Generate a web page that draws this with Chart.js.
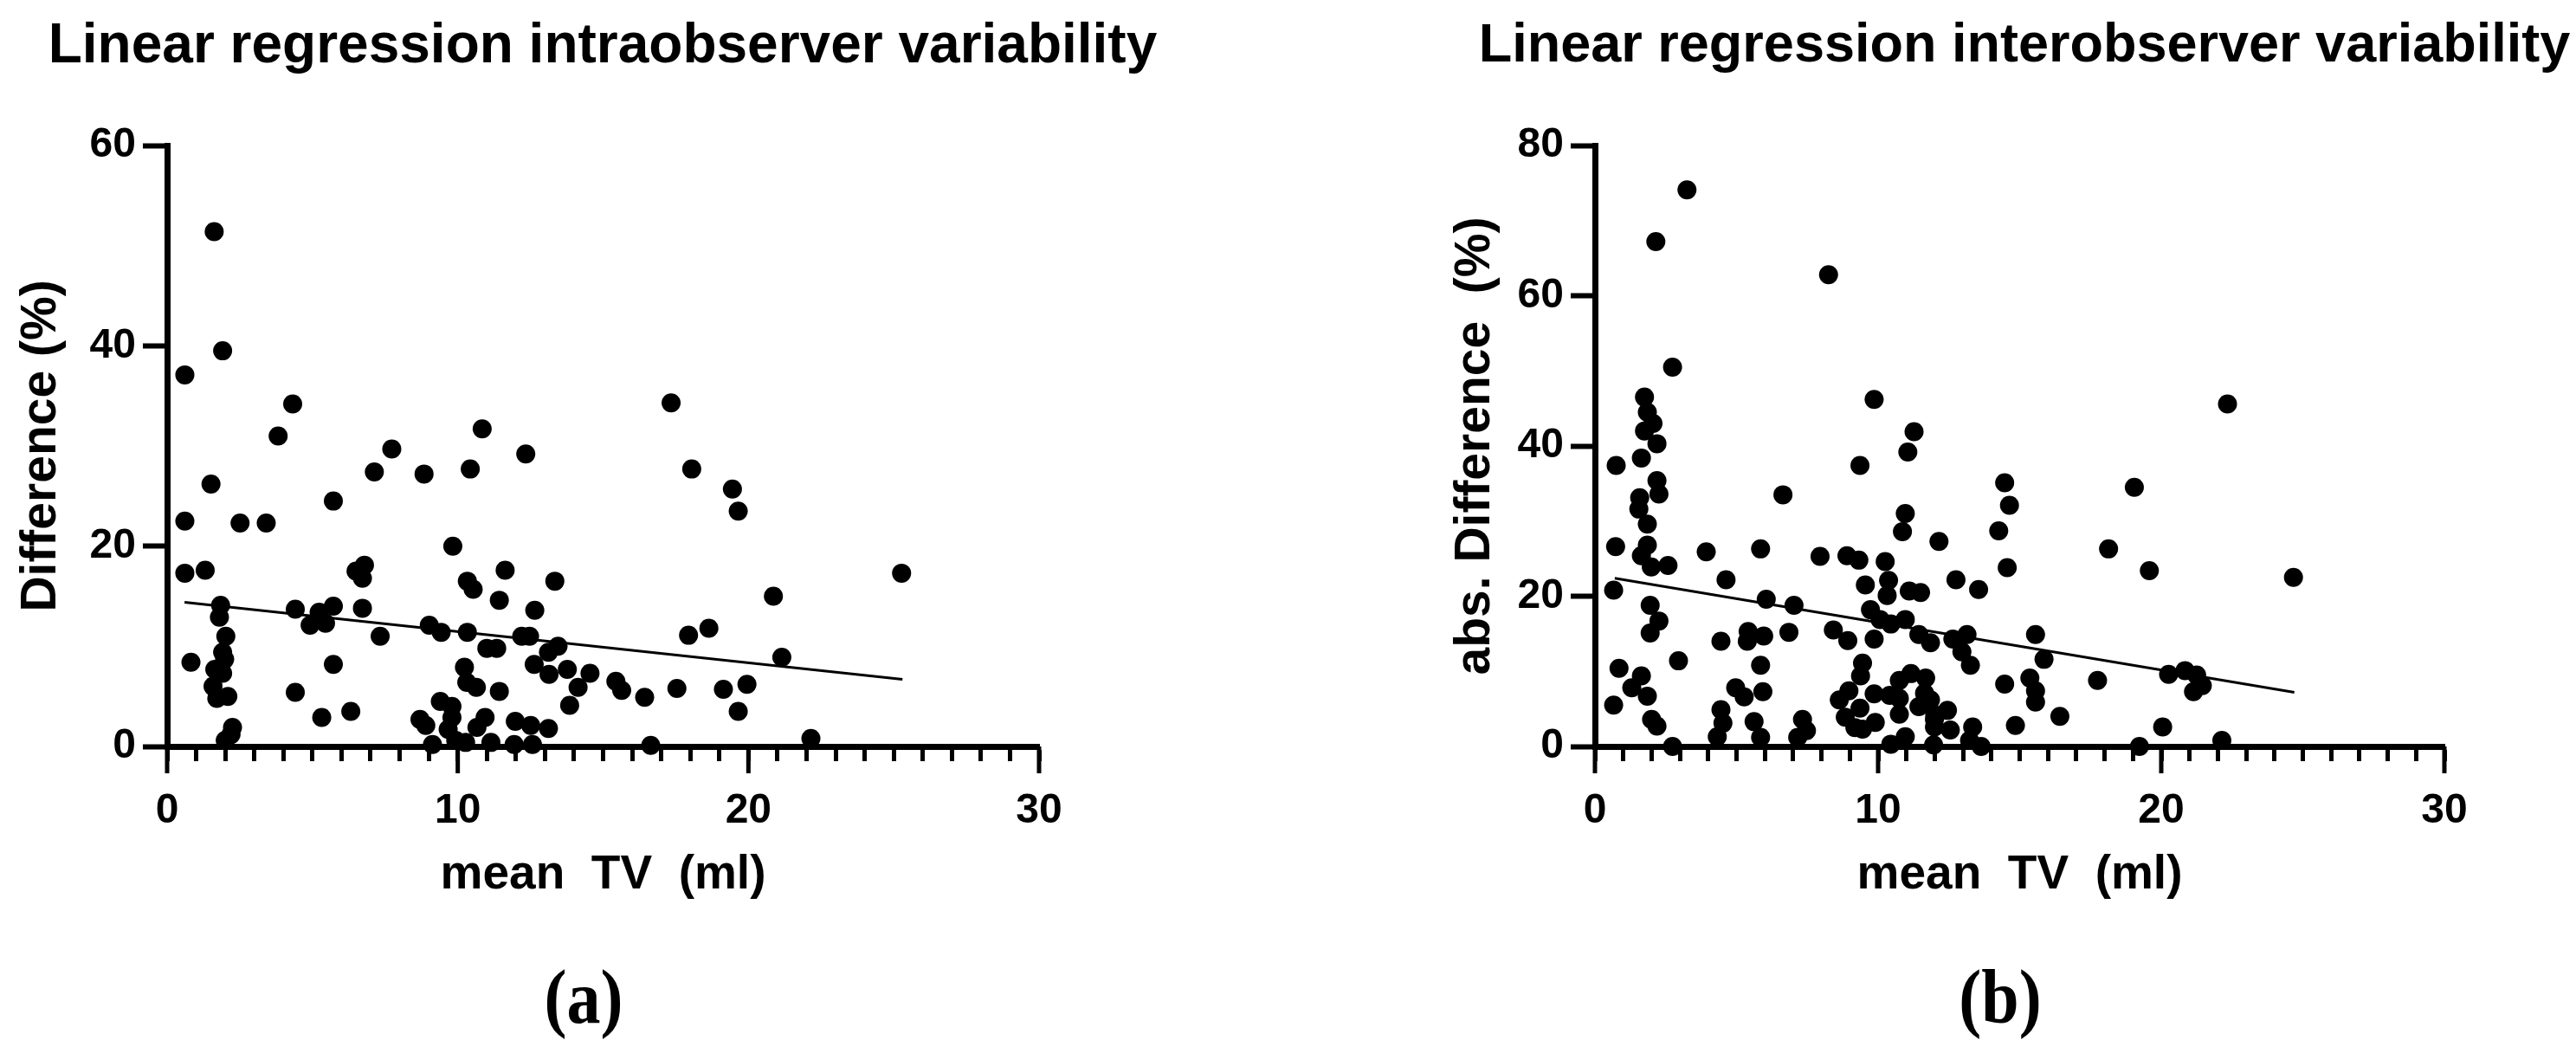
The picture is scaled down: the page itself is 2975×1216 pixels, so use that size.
<!DOCTYPE html>
<html>
<head>
<meta charset="utf-8">
<script src="https://cdn.jsdelivr.net/npm/chart.js@4.4.1/dist/chart.umd.min.js"></script>
<style>
  body { margin: 0; background: #fff; width: 2975px; height: 1216px; overflow: hidden; position: relative; }
  .panel { position: absolute; top: 0; height: 1216px; }
  .label { position: absolute; top: 1107px; width: 200px; text-align: center; line-height: 1;
           font: bold 78px 'Liberation Serif', 'Times New Roman', serif; color: #000;
           transform: scaleY(1.15); transform-origin: 50% 55%; }
</style>
</head>
<body>
<div class="panel" style="left:0;width:1392px"><canvas id="intraChart"></canvas></div>
<div class="panel" style="left:1651px;width:1374px"><canvas id="interChart"></canvas></div>
<div class="label" style="left:574px">(a)</div>
<div class="label" style="left:2210px">(b)</div>
<script>
// (a) intraobserver: mean TV (ml) vs difference (%)
const intraX = [1.62,1.91,0.61,4.32,3.82,10.84,7.73,12.34,7.13,8.84,10.43,1.51,5.72,0.61,2.51,3.41,9.83,0.61,1.31,6.50,
  6.79,6.72,11.63,13.34,10.33,10.53,11.43,1.84,1.80,4.41,6.72,5.72,5.23,5.45,4.92,12.65,9.02,9.43,10.33,12.20,
  12.47,7.33,2.02,11.00,11.34,13.45,13.12,1.91,1.98,0.82,5.72,12.63,10.23,13.77,1.64,1.91,13.14,14.55,10.31,10.64,
  14.14,1.58,4.41,11.43,1.71,2.09,9.40,9.80,13.85,5.32,6.32,8.70,8.90,9.80,10.94,9.67,10.66,11.98,12.51,13.12,
  2.25,2.20,2.00,9.13,9.93,10.27,11.14,11.94,12.57,17.34,18.05,19.45,19.65,25.27,20.86,18.64,17.94,21.15,15.44,15.64,
  17.54,19.14,19.95,16.43,19.65,16.64,22.15];
const intraY = [51.4,39.5,37.1,34.2,31.0,31.7,29.7,29.2,27.4,27.2,27.7,26.2,24.5,22.5,22.3,22.3,20.0,17.3,17.6,17.5,
  18.1,16.8,17.6,16.5,16.5,15.7,14.6,14.1,12.9,13.7,13.8,14.0,13.4,12.3,12.1,13.6,12.1,11.4,11.4,11.0,
  11.0,11.0,11.0,9.8,9.8,10.0,9.4,9.4,8.7,8.4,8.2,8.2,7.9,7.7,7.7,7.3,7.2,7.3,6.4,5.9,
  5.9,6.0,5.4,5.5,4.8,5.0,4.5,4.0,4.1,2.9,3.5,2.7,2.1,2.9,2.9,1.7,1.9,2.5,2.1,1.8,
  1.9,1.2,0.6,0.2,0.6,0.4,0.4,0.2,0.2,34.3,27.7,25.7,23.5,17.3,15.0,11.8,11.1,8.9,6.5,5.6,
  5.8,5.7,6.2,4.9,3.5,0.1,0.8];
const intraFitX = [0.6, 25.3];
const intraFitY = [14.4, 6.7];

// (b) interobserver: mean TV (ml) vs abs. difference (%)
const interX = [3.25,2.15,8.25,2.74,9.86,1.75,1.85,2.05,1.75,2.19,11.27,11.05,0.75,1.64,9.36,2.19,6.64,1.58,2.26,1.55,
  10.96,10.86,1.85,12.15,0.73,3.93,5.85,1.85,1.64,7.95,8.90,9.32,2.58,1.99,10.25,4.63,9.55,10.37,10.32,11.10,
  11.50,0.66,6.05,7.03,1.95,9.73,10.07,10.45,10.96,9.86,2.26,1.95,6.85,4.45,5.41,5.38,5.96,8.42,8.93,11.44,
  11.85,2.95,5.85,0.85,9.45,9.38,11.16,10.75,11.68,1.64,1.30,1.85,4.97,5.27,5.93,8.63,8.97,9.86,10.41,10.75,
  11.64,11.85,11.44,0.66,9.36,10.75,8.84,4.45,4.52,5.62,7.33,2.00,2.19,7.47,9.18,9.90,11.99,11.99,9.45,4.32,
  5.85,7.16,10.96,2.74,10.45,11.96,22.34,14.47,14.64,19.05,14.26,18.14,14.56,19.58,24.67,12.75,13.55,12.64,13.14,15.56,
  12.96,13.26,15.86,15.36,14.47,17.75,20.26,20.84,21.25,21.45,21.14,15.56,15.56,12.45,12.00,12.55,13.34,16.42,14.85,20.05,
  13.23,13.64,19.23,22.14];
const interY = [74.1,67.2,62.8,50.5,46.2,46.5,44.5,43.0,42.0,40.3,41.9,39.2,37.4,38.4,37.4,35.4,33.5,33.1,33.6,31.6,
  31.0,28.6,29.6,27.3,26.6,25.9,26.3,26.8,25.4,25.3,25.4,24.8,24.1,23.9,24.6,22.2,21.5,22.1,20.1,20.7,
  20.5,20.8,19.6,18.8,18.8,18.2,16.9,16.3,16.9,14.3,16.7,15.1,15.2,14.0,15.3,14.0,14.7,15.5,14.1,14.9,
  13.8,11.4,10.8,10.4,11.1,9.4,9.7,8.8,9.1,9.4,7.8,6.7,7.8,6.6,7.3,6.2,7.4,7.0,6.8,6.4,
  7.1,6.2,5.3,5.5,5.1,4.3,3.9,4.9,3.1,3.3,3.6,3.6,2.7,2.1,2.5,3.2,3.6,2.6,2.3,1.3,
  1.2,1.2,1.3,0.0,0.3,0.2,45.6,35.1,32.1,34.5,28.7,26.3,23.8,23.4,22.5,22.2,20.9,14.3,14.9,14.9,
  12.6,10.8,11.6,9.1,8.3,8.8,9.6,10.1,9.5,8.1,7.3,7.4,5.9,4.8,4.2,2.2,2.6,4.0,2.8,2.6,
  0.8,0.0,0.0,0.8];
const interFitX = [0.7, 24.7];
const interFitY = [22.4, 7.2];

const xTickLabels = [0, 10, 20, 30];
const intraYTicks = [0, 20, 40, 60];
const interYTicks = [0, 20, 40, 60, 80];

const sans = "'Liberation Sans', Arial, sans-serif";

// longer ticks at 0, 10, 20, 30 under the x axis
const majorTicks = {
    id: "majorTicks",
    beforeDatasetsDraw(chart) {
        const scale = chart.scales.x;
        const ctx = chart.ctx;
        const bottom = chart.chartArea.bottom;
        ctx.save();
        ctx.strokeStyle = "#000";
        ctx.lineWidth = 5;
        xTickLabels.forEach(v => {
            const px = scale.getPixelForValue(v);
            ctx.beginPath();
            ctx.moveTo(px, bottom);
            ctx.lineTo(px, bottom + 31);
            ctx.stroke();
        });
        ctx.restore();
    }
};

function toPoints(xs, ys) {
    return xs.map((x, i) => ({ x: x, y: ys[i] }));
}

function drawPanel(id, xs, ys, fitX, fitY, yTicks, title, titleSize, yTitle, yAxisWidth, rightSpace, yTitlePad) {
    const ctx = document.getElementById(id).getContext("2d");
    const yMax = yTicks[yTicks.length - 1];
    new Chart(ctx, {
        type: "scatter",
        data: {
            datasets: [{
                data: toPoints(xs, ys),
                backgroundColor: "#000",
                borderWidth: 0,
                pointRadius: 11,
                clip: false
            }, {
                type: "line",
                data: toPoints(fitX, fitY),
                borderColor: "#000",
                borderWidth: 3,
                pointRadius: 0,
                fill: false
            }]
        },
        options: {
            responsive: true,
            maintainAspectRatio: false,
            devicePixelRatio: 1,
            animation: false,
            layout: { padding: { left: 0, right: 0, top: 0, bottom: 164 } },
            plugins: {
                legend: { display: false },
                tooltip: { enabled: false },
                title: {
                    display: true,
                    text: title,
                    color: "#000",
                    font: { family: sans, size: titleSize, weight: "bold" },
                    padding: { top: 16, bottom: 168 - 16 - titleSize * 1.2 }
                }
            },
            scales: {
                x: {
                    type: "linear",
                    min: 0,
                    max: 30,
                    afterFit: scale => { scale.height = 190; },
                    border: { color: "#000", width: 7 },
                    grid: { drawOnChartArea: false, color: "#000", tickLength: 17, tickWidth: 5 },
                    ticks: {
                        stepSize: 1,
                        autoSkip: false,
                        maxRotation: 0,
                        padding: 29,
                        color: "#000",
                        font: { family: sans, size: 48, weight: "bold" },
                        callback: v => xTickLabels.includes(v) ? v : ""
                    },
                    title: {
                        display: true,
                        text: "mean  TV  (ml)",
                        color: "#000",
                        font: { family: sans, size: 55, weight: "bold" },
                        padding: { top: 0, bottom: 8 }
                    }
                },
                y: {
                    min: 0,
                    max: yMax,
                    afterFit: scale => { scale.width = yAxisWidth; },
                    afterBuildTicks: scale => { scale.ticks = yTicks.map(v => ({ value: v })); },
                    border: { color: "#000", width: 7 },
                    grid: { drawOnChartArea: false, color: "#000", tickLength: 28, tickWidth: 6 },
                    ticks: {
                        padding: 8,
                        color: "#000",
                        font: { family: sans, size: 48, weight: "bold" }
                    },
                    title: {
                        display: true,
                        text: yTitle,
                        color: "#000",
                        font: { family: sans, size: 57, weight: "bold" },
                        padding: { top: yTitlePad, bottom: 0 }
                    }
                },
                // empty axis that only keeps space on the right so the title is centred on the plot
                spacer: {
                    type: "linear",
                    position: "right",
                    min: 0,
                    max: 1,
                    afterFit: scale => { scale.width = rightSpace; },
                    border: { display: false },
                    grid: { display: false },
                    ticks: { display: false }
                }
            }
        },
        plugins: [majorTicks]
    });
}

drawPanel("intraChart", intraX, intraY, intraFitX, intraFitY, intraYTicks,
    "Linear regression intraobserver variability", 64, "Difference (%)", 193, 192, 14);
drawPanel("interChart", interX, interY, interFitX, interFitY, interYTicks,
    "Linear regression interobserver variability", 63, "abs. Difference  (%)", 191, 202, 19);
</script>
</body>
</html>
